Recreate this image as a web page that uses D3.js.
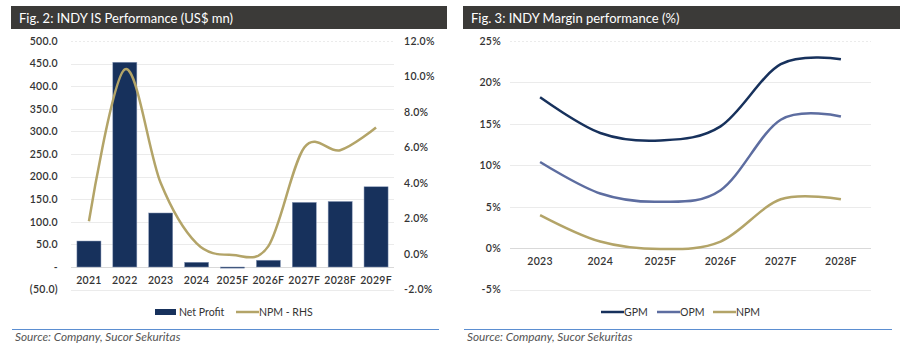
<!DOCTYPE html>
<html><head><meta charset="utf-8">
<script src="https://cdn.jsdelivr.net/npm/d3@7"></script>
<style>
body{margin:0;background:#fff;}
svg{display:block;font-family:Lato, "Open Sans", sans-serif;}
</style></head>
<body><svg id="c" width="903" height="352"></svg>
<script>
// ---- Data: Fig. 2 ----
const years2 = ["2021","2022","2023","2024","2025F","2026F","2027F","2028F","2029F"];
const netProfit = [57.5, 453, 119.5, 10.5, -2.5, 15, 143, 145, 177.5];
const npmRHS = [1.85, 10.4, 4.0, 0.6, -0.05, 0.45, 6.0, 5.85, 7.13];
const leftTicks = [-50,0,50,100,150,200,250,300,350,400,450,500];
const rightTicks = [-2,0,2,4,6,8,10,12];
// ---- Data: Fig. 3 ----
const years3 = ["2023","2024","2025F","2026F","2027F","2028F"];
const gpm = [18.2, 13.9, 13.0, 14.7, 22.2, 22.8];
const opm = [10.4, 6.6, 5.6, 7.0, 15.5, 15.9];
const npm = [4.0, 0.8, -0.1, 0.8, 5.9, 5.9];
const marginTicks = [-5,0,5,10,15,20,25];

const navy="#17315c", gold="#b3a468", slate="#5d6da0", grid="#ebebeb", txt="#333";
const svg=d3.select("#c");
const tickFont=g=>g.selectAll("text").attr("font-size",10.5).attr("fill",txt).attr("font-weight",600).attr("font-family","Lato").attr("letter-spacing",0.3);

function header(x0,x1,title){
  svg.append("rect").attr("x",x0).attr("y",6).attr("width",x1-x0).attr("height",23).attr("fill","#3b3a38");
  svg.append("text").attr("x",x0+8).attr("y",23).attr("fill","#fff").attr("font-size",13).text(title);
  svg.append("line").attr("x1",x0+1).attr("x2",x1-8).attr("y1",329.5).attr("y2",329.5).attr("stroke","#5b8ed1").attr("stroke-width",1.2);
  svg.append("text").attr("x",x0+4).attr("y",341).attr("fill","#555").attr("font-size",11.8).attr("font-style","italic").text("Source: Company, Sucor Sekuritas");
}

// ===== Fig 2 =====
header(11,447,"Fig. 2: INDY IS Performance (US$ mn)");
const x2=d3.scaleBand().domain(years2).range([71,394]).paddingInner(0.33).paddingOuter(0.165);
const yL=d3.scaleLinear().domain([-50,500]).range([289.6,41]);
const yR=d3.scaleLinear().domain([-2,12]).range([289.6,41]);
const g2=svg.append("g");
g2.selectAll("line.g").data(leftTicks).join("line")
  .attr("x1",71).attr("x2",394).attr("y1",d=>Math.round(yL(d))+0.5).attr("y2",d=>Math.round(yL(d))+0.5)
  .attr("stroke",d=>d===0?"#d9d9d9":grid).attr("stroke-width",1)
  .attr("stroke-dasharray",d=>d===500?"2,2":null);
const aL=d3.axisLeft(yL).tickValues(leftTicks).tickSize(0).tickPadding(0)
  .tickFormat(d=>d===0?"-":d<0?"("+Math.abs(d).toFixed(1)+")":d.toFixed(1));
g2.append("g").attr("transform","translate(58,0)").call(aL)
  .call(g=>g.select(".domain").remove()).call(tickFont);
const aR=d3.axisRight(yR).tickValues(rightTicks).tickSize(0).tickPadding(0)
  .tickFormat(d=>d.toFixed(1)+"%");
g2.append("g").attr("transform","translate(404,0)").call(aR)
  .call(g=>g.select(".domain").remove()).call(tickFont);
g2.selectAll("rect.bar").data(netProfit).join("rect")
  .attr("x",(d,i)=>x2(years2[i])).attr("width",x2.bandwidth())
  .attr("y",d=>Math.min(yL(d),yL(0))).attr("height",d=>Math.abs(yL(d)-yL(0)))
  .attr("fill",navy).attr("stroke","#8a9ab8").attr("stroke-width",0.5);
const ax2=d3.axisBottom(x2).tickSize(0).tickPadding(0);
g2.append("g").attr("transform","translate(0,277)").call(ax2)
  .call(g=>g.select(".domain").remove()).call(tickFont);
const line2=d3.line().x((d,i)=>x2(years2[i])+x2.bandwidth()/2).y(d=>yR(d)).curve(d3.curveCatmullRom.alpha(0));
g2.append("path").datum(npmRHS).attr("d",line2).attr("fill","none").attr("stroke",gold).attr("stroke-width",2.5);
// legend
const lg2=svg.append("g");
lg2.append("rect").attr("x",155).attr("y",309).attr("width",21).attr("height",6).attr("fill",navy);
lg2.append("text").attr("x",179).attr("y",316).attr("font-size",10.5).attr("fill",txt).text("Net Profit");
lg2.append("line").attr("x1",236).attr("x2",259).attr("y1",312).attr("y2",312).attr("stroke",gold).attr("stroke-width",2.5);
lg2.append("text").attr("x",259).attr("y",316).attr("font-size",10.5).attr("fill",txt).text("NPM - RHS");

// ===== Fig 3 =====
header(463,900,"Fig. 3: INDY Margin performance (%)");
const x3=d3.scaleBand().domain(years3).range([510,871]);
const y3=d3.scaleLinear().domain([-5,25]).range([289.6,41]);
const g3=svg.append("g");
g3.selectAll("line.g").data(marginTicks).join("line")
  .attr("x1",510).attr("x2",871).attr("y1",d=>Math.round(y3(d))+0.5).attr("y2",d=>Math.round(y3(d))+0.5)
  .attr("stroke",d=>d===0?"#d9d9d9":grid).attr("stroke-width",1)
  .attr("stroke-dasharray",d=>d===25?"2,2":null);
const a3=d3.axisLeft(y3).tickValues(marginTicks).tickSize(0).tickPadding(0).tickFormat(d=>d+"%");
g3.append("g").attr("transform","translate(501,0)").call(a3)
  .call(g=>g.select(".domain").remove()).call(tickFont);
const ax3=d3.axisBottom(x3).tickSize(0).tickPadding(0);
g3.append("g").attr("transform","translate(0,258)").call(ax3)
  .call(g=>g.select(".domain").remove()).call(tickFont);
const line3=d3.line().x((d,i)=>x3(years3[i])+x3.bandwidth()/2).y(d=>y3(d)).curve(d3.curveCatmullRom.alpha(0));
[[gpm,navy],[opm,slate],[npm,gold]].forEach(([s,c])=>{
  g3.append("path").datum(s).attr("d",line3).attr("fill","none").attr("stroke",c).attr("stroke-width",2.5);
});
const lg3=svg.append("g");
[["GPM",navy,601],["OPM",slate,657],["NPM",gold,713]].forEach(([t,c,x])=>{
  lg3.append("line").attr("x1",x).attr("x2",x+23).attr("y1",312).attr("y2",312).attr("stroke",c).attr("stroke-width",2.5);
  lg3.append("text").attr("x",x+23).attr("y",316).attr("font-size",10.5).attr("fill",txt).text(t);
});
</script></body></html>
